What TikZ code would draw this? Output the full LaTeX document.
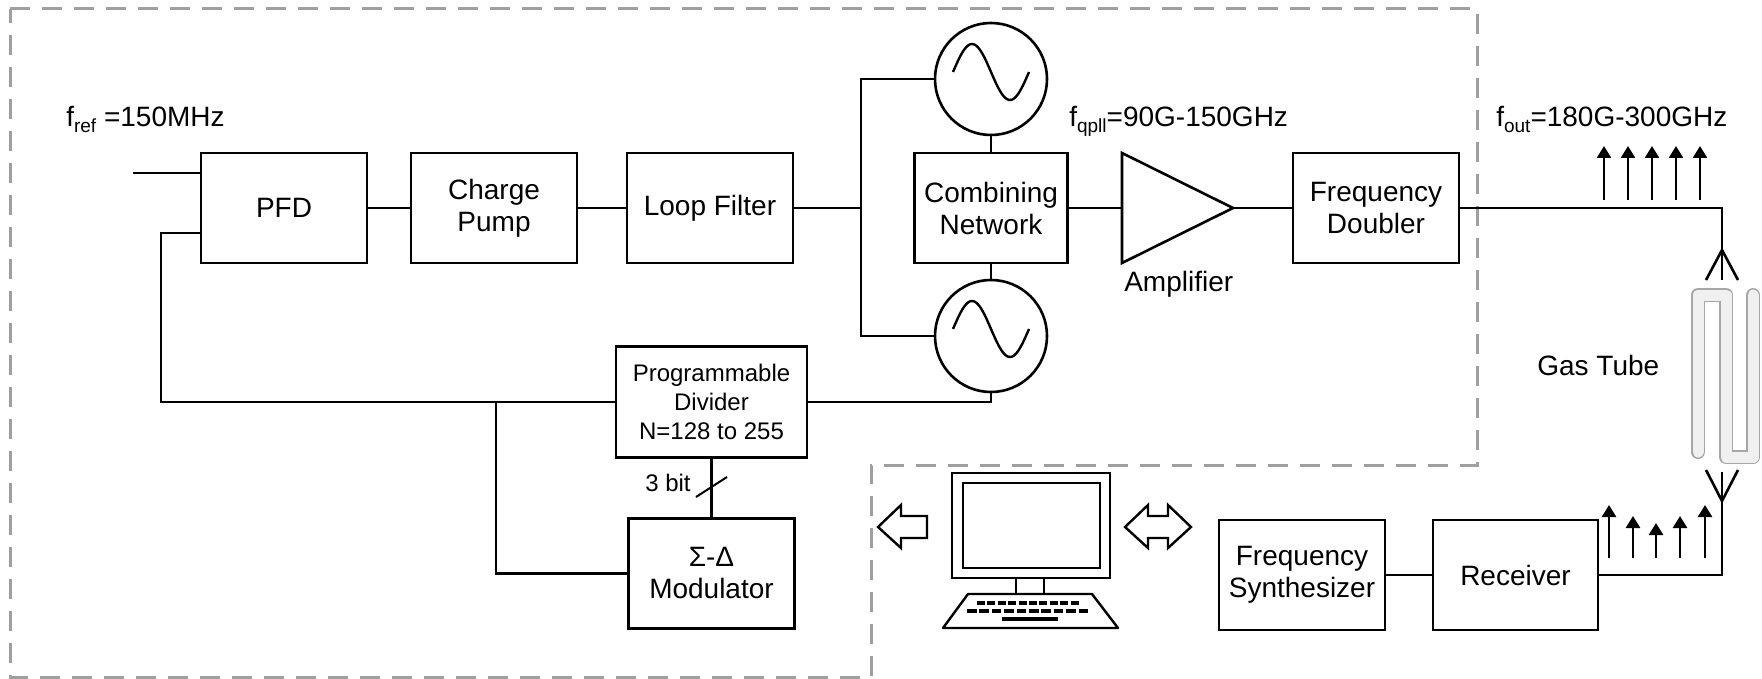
\documentclass[tikz,border=0pt]{standalone}
\usepackage{fontspec}
\setmainfont{Liberation Sans}
\usetikzlibrary{positioning}
\usetikzlibrary{arrows.meta}

\newcommand{\lowsub}[1]{\raisebox{-0.35ex}{\fontsize{19}{19}\selectfont #1}}

\begin{document}
\begin{tikzpicture}[
		x=1pt, y=-1pt,
		line width=2.6pt,
		font=\fontsize{28}{32}\selectfont,
		b/.style={draw, rectangle, minimum width=166pt, minimum height=110pt, align=center, outer sep=0pt},
		osc/.style={draw, circle, minimum size=112pt, outer sep=0pt, path picture={
				\draw[line width=2.4pt, shift={(path picture bounding box.center)}]
					plot[domain=-38:38, samples=50, smooth] (\x, {-7+28*sin(\x*360/76)});}},
		a/.style={line width=2.6pt},
		sp/.style={-{Triangle[length=12pt, width=14pt]}, line width=2.6pt},
		grp/.style={draw=gray!75, line width=3pt, dash pattern=on 20pt off 12pt},
		lbl/.style={anchor=base west, inner sep=0pt},
	]
		\useasboundingbox (0,0) rectangle (1762,679);

		\draw[grp] (10,9) -- (1477,9) -- (1477,465) -- (871,465) -- (871,677) -- (10,677) -- cycle;

		\node[b] (PFD) at (284,208) {PFD};
		\node[b, right=44pt of PFD] (CP) {Charge\\Pump};
		\node[b, right=50pt of CP] (LF) {Loop Filter};
		\node[b, minimum width=153pt] (CN) at (991,208) {Combining\\Network};
		\node[osc, above=18pt of CN] (O1) {};
		\node[osc, below=17pt of CN] (O2) {};
		\node[b] (FD) at (1376,208) {Frequency\\Doubler};
		\node[b, minimum width=191pt, minimum height=111pt, font=\fontsize{24}{29}\selectfont] (PD) at (711.5,402) {Programmable\\Divider\\N=128 to 255};
		\node[b, below=61pt of PD] (SD) {Σ-Δ\\Modulator};
		\node[b] (FS) at (1302,575) {Frequency\\Synthesizer};
		\node[b, right=48pt of FS, minimum width=165pt] (RX) {Receiver};

		\node[lbl] (fref) at (65,127) {f\lowsub{ref} =150MHz};
		\node[lbl] (fqpll) at (1068,127) {f\lowsub{qpll}=90G-150GHz};
		\node[lbl] (fout) at (1495,127) {f\lowsub{out}=180G-300GHz};
		\node[lbl] (amplbl) at (1123,291) {Amplifier};
		\node[lbl] (tubelbl) at (1536,375) {Gas Tube};
		\node[lbl, font=\fontsize{24}{28}\selectfont] (bitlbl) at (644,491) {3 bit};

		% amplifier
		\coordinate (AmpIn) at (1122,208);
		\coordinate (AmpOut) at (1233,208);
		\draw (1122,153) -- (AmpOut) -- (1122,263) -- cycle;

		% loop
		\coordinate (In) at (133,173);
		\coordinate (FbT) at (161,233);
		\coordinate (FbL) at (161,402);
		\coordinate (J) at (496,402);
		\coordinate (BusT) at (861,79);
		\coordinate (BusB) at (861,336);
		\draw[a] (In) -- (In -| PFD.west);
		\draw[a] (PFD.east) -- (CP.west);
		\draw[a] (CP.east) -- (LF.west);
		\draw[a] (LF.east) -- (LF.east -| BusT);
		\draw[a] (O1.west) -- (BusT) -- (BusB) -- (O2.west);
		\draw[a] (O1.south) -- (CN.north);
		\draw[a] (CN.south) -- (O2.north);
		\draw[a] (CN.east) -- (AmpIn);
		\draw[a] (AmpOut) -- (FD.west);
		\draw[a] (FbT -| PFD.west) -- (FbT) -- (FbL) -- (PD.west);
		\draw[a] (PD.east) -| (O2.south);
		\draw[a] (J) -- (J |- SD.west) -- (SD.west);
		\draw[a] (PD.south) -- (SD.north);
		\draw[line width=2pt] (696,497) -- (727,477);

		% antennas
		\coordinate (TxTip) at (1722,250);
		\coordinate (TxEnd) at (1722,280);
		\coordinate (RxTip) at (1722,501);
		\coordinate (RxTop) at (1722,472);
		\draw[a] (FD.east) -| (TxEnd);
		\draw[a] (1706,280) -- (TxTip) -- (1738,280);
		\draw[a] (1706,470) -- (RxTip) -- (1738,470);
		\draw[a] (RxTop) |- (RX.east);
		\draw[a] (FS.east) -- (RX.west);

		\foreach \x in {1604,1628,1652,1676,1700}
			\draw[sp] (\x,200) -- (\x,146);
		\foreach \x/\t in {1609/505,1633/516,1656/523,1680/516,1705/505}
			\draw[sp] (\x,558) -- (\x,\t);

		% gas tube
		\draw[gray!70, line width=14pt, line join=round, line cap=round]
			(1698,452) -- (1698,295) -- (1726,295) -- (1726,457) -- (1753,457) -- (1753,295);
		\draw[gray!12, line width=11pt, line join=round, line cap=round]
			(1698,452) -- (1698,295) -- (1726,295) -- (1726,457) -- (1753,457) -- (1753,295);

		% computer
		\draw[line width=2.4pt] (952,473) rectangle (1110,578);
		\draw[line width=2.4pt] (963,483) rectangle (1100,568);
		\draw[line width=2.4pt] (1016,578) rectangle (1044,594);
		\draw[line width=2.4pt, line join=round] (968,594) -- (1092,594) -- (1118,628) -- (943,628) -- cycle;
		\foreach \i in {0,...,9}
			\fill (977+\i*10.4,601) rectangle ++(8,4);
		\foreach \i in {0,...,9}
			\fill (967+\i*12.4,609) rectangle ++(9.5,4);
		\fill (1002,617) rectangle (1058,621);

		\draw[line width=2.4pt] (878,527) -- (901,505) -- (901,516) -- (927,516) -- (927,538) -- (901,538) -- (901,548) -- cycle;
		\draw[line width=2.4pt] (1125,527) -- (1148,505) -- (1148,516) -- (1168,516) -- (1168,505) -- (1191,527)
			-- (1168,548) -- (1168,538) -- (1148,538) -- (1148,548) -- cycle;
	\end{tikzpicture}
\end{document}
